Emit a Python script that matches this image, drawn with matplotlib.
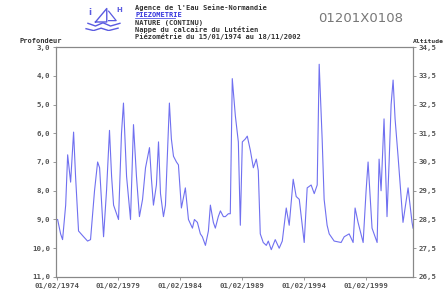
import datetime as dt
import matplotlib
matplotlib.use("Agg")
import matplotlib.pyplot as plt
import matplotlib.dates as mdates

# Piezometric depth (m), time in decimal years
years = [1974.04, 1974.17, 1974.41, 1974.57, 1974.82, 1974.98, 1975.22, 1975.46, 1975.62, 1975.86,
         1976.27, 1976.59, 1976.83, 1977.15, 1977.40, 1977.56, 1977.88, 1978.12, 1978.36,
         1978.53, 1978.69, 1979.09, 1979.33, 1979.49, 1979.74, 1980.06, 1980.30, 1980.54,
         1980.78, 1981.03, 1981.27, 1981.59, 1981.75, 1981.91, 1982.15, 1982.32, 1982.48,
         1982.72, 1982.88, 1983.20, 1983.36, 1983.53, 1983.77, 1983.93, 1984.17, 1984.49,
         1984.74, 1985.06, 1985.22, 1985.46, 1985.70, 1985.86, 1986.11, 1986.35, 1986.51,
         1986.75, 1986.91, 1987.15, 1987.32, 1987.56, 1987.72, 1987.96, 1988.12, 1988.28,
         1988.53, 1988.77, 1988.93, 1989.09, 1989.33, 1989.49, 1989.74, 1989.98, 1990.22,
         1990.38, 1990.54, 1990.78, 1991.03, 1991.19, 1991.43, 1991.75, 1992.07, 1992.32,
         1992.64, 1992.88, 1993.20, 1993.44, 1993.69, 1994.09, 1994.33, 1994.65, 1994.90,
         1995.14, 1995.30, 1995.54, 1995.70, 1995.94, 1996.11, 1996.51, 1997.07, 1997.32,
         1997.72, 1998.04, 1998.20, 1998.44, 1998.85, 1999.09, 1999.25, 1999.57, 1999.98,
         2000.14, 2000.30, 2000.54, 2000.78, 2000.95, 2001.11, 2001.27, 2001.43, 2001.67,
         2002.07, 2002.48, 2002.80, 2002.88]
depth = [9.0, 9.0, 9.5, 9.7, 8.5, 6.75, 7.7, 5.96, 7.5, 9.4,
         9.6, 9.75, 9.7, 8.0, 7.0, 7.2, 9.6, 8.0, 5.9,
         7.5, 8.5, 9.0, 6.0, 4.95, 7.5, 9.0, 5.7, 7.5,
         8.9, 8.3, 7.2, 6.5, 7.6, 8.5, 7.8, 6.3, 8.1,
         8.9, 8.5, 4.95, 6.2, 6.8, 7.0, 7.1, 8.6, 7.9,
         9.0, 9.3, 9.0, 9.1, 9.5, 9.6, 9.9, 9.4, 8.5,
         9.1, 9.3, 8.9, 8.7, 8.9, 8.9, 8.8, 8.8, 4.1,
         5.4, 6.3, 9.2, 6.3, 6.2, 6.1, 6.6, 7.2, 6.9,
         7.3, 9.5, 9.8, 9.9, 9.75, 10.05, 9.7, 10.0, 9.75,
         8.6, 9.2, 7.6, 8.2, 8.3, 9.8, 7.9, 7.8, 8.1,
         7.8, 3.6, 6.2, 8.3, 9.2, 9.5, 9.75, 9.8, 9.6,
         9.5, 9.8, 8.6, 9.1, 9.8, 8.0, 7.0, 9.3, 9.8,
         6.9, 8.0, 5.5, 8.9, 7.0, 5.0, 4.15, 5.5, 6.8,
         9.1, 7.9, 9.1, 9.3]

depth_ticks = [3, 4, 5, 6, 7, 8, 9, 10, 11]
alt_ticks = [34.5, 33.5, 32.5, 31.5, 30.5, 29.5, 28.5, 27.5, 26.5]
tick_years = [1974, 1979, 1984, 1989, 1994, 1999]


def to_date(y):
    year = int(y)
    start = dt.datetime(year, 1, 1)
    return start + dt.timedelta(days=(y - year) * 365.25)


dates = [to_date(y) for y in years]
tick_dates = [dt.datetime(y, 2, 1) for y in tick_years]

fig = plt.figure(figsize=(4.43, 2.99), dpi=100)
ax = fig.add_axes([0.1264, 0.0736, 0.8059, 0.7692])
ax.plot(dates, depth, color="#7070f0", lw=0.8)

ax.set_ylim(11, 3)
ax.set_xlim(dt.datetime(1974, 1, 15), dt.datetime(2002, 11, 18))
ax.set_yticks(depth_ticks)
ax.set_yticklabels([f"{v:.1f}".replace(".", ",") for v in depth_ticks])
ax.set_xticks(tick_dates)
ax.xaxis.set_major_formatter(mdates.DateFormatter("%d/%m/%Y"))

ax2 = ax.twinx()
ax2.set_ylim(26.5, 34.5)
ax2.set_yticks(alt_ticks)
ax2.set_yticklabels([f"{v:.1f}".replace(".", ",") for v in alt_ticks])

tick_font = dict(family="DejaVu Sans Mono", weight="bold", size=5.3)
for a in (ax, ax2):
    for sp in a.spines.values():
        sp.set_color("#888888")
        sp.set_linewidth(0.8)
    a.tick_params(length=2, width=0.6, color="#888888", pad=2, labelcolor="#555555")
    for lab in a.get_xticklabels() + a.get_yticklabels():
        lab.set_fontproperties(tick_font)

# header
hdr = dict(family="DejaVu Sans Mono", weight="bold", size=5.0, color="#333333")
fig.text(0.305, 0.968, "Agence de l'Eau Seine-Normandie", **hdr)
fig.text(0.305, 0.943, "PIEZOMETRIE", family="DejaVu Sans Mono", size=5.0,
         color="#3333dd", weight="bold")
fig.add_artist(plt.Line2D([0.305, 0.395], [0.939, 0.939], color="#3333dd", lw=0.5))
fig.text(0.305, 0.918, "NATURE (CONTINU)", **hdr)
fig.text(0.305, 0.893, "Nappe du calcaire du Lutétien", **hdr)
fig.text(0.305, 0.868, "Piézométrie du 15/01/1974 au 18/11/2002", **hdr)
fig.text(0.815, 0.925, "01201X0108", size=9.5, color="#777777", ha="center")

# small boat logo drawn with strokes
logo = fig.add_axes([0.19, 0.895, 0.085, 0.09])
logo.set_xlim(0, 10)
logo.set_ylim(0, 10)
logo.axis("off")
logo.plot([1, 3, 5, 7, 9.5], [3, 2, 3.2, 2, 3], color="#5a5ae0", lw=1.0)
logo.plot([0.5, 2.5, 4.5, 6.5, 9], [1, 0.3, 1.2, 0.3, 1.2], color="#5a5ae0", lw=1.0)
logo.plot([3, 6, 6, 3], [3.5, 3.5, 8.5, 3.5], color="#5a5ae0", lw=1.0)
logo.plot([6.5, 8.5, 6.5], [4, 4, 7.5], color="#5a5ae0", lw=0.9)
logo.text(1.5, 7, "i", color="#5a5ae0", size=6, weight="bold", ha="center", va="center")
logo.text(9.3, 8, "H", color="#5a5ae0", size=5, weight="bold", ha="center", va="center")

fig.text(0.045, 0.855, "Profondeur", **hdr)
fig.text(0.933, 0.855, "Altitude", family="DejaVu Sans Mono", weight="bold",
         size=4.6, color="#333333")

fig.savefig("out.png", dpi=100)
